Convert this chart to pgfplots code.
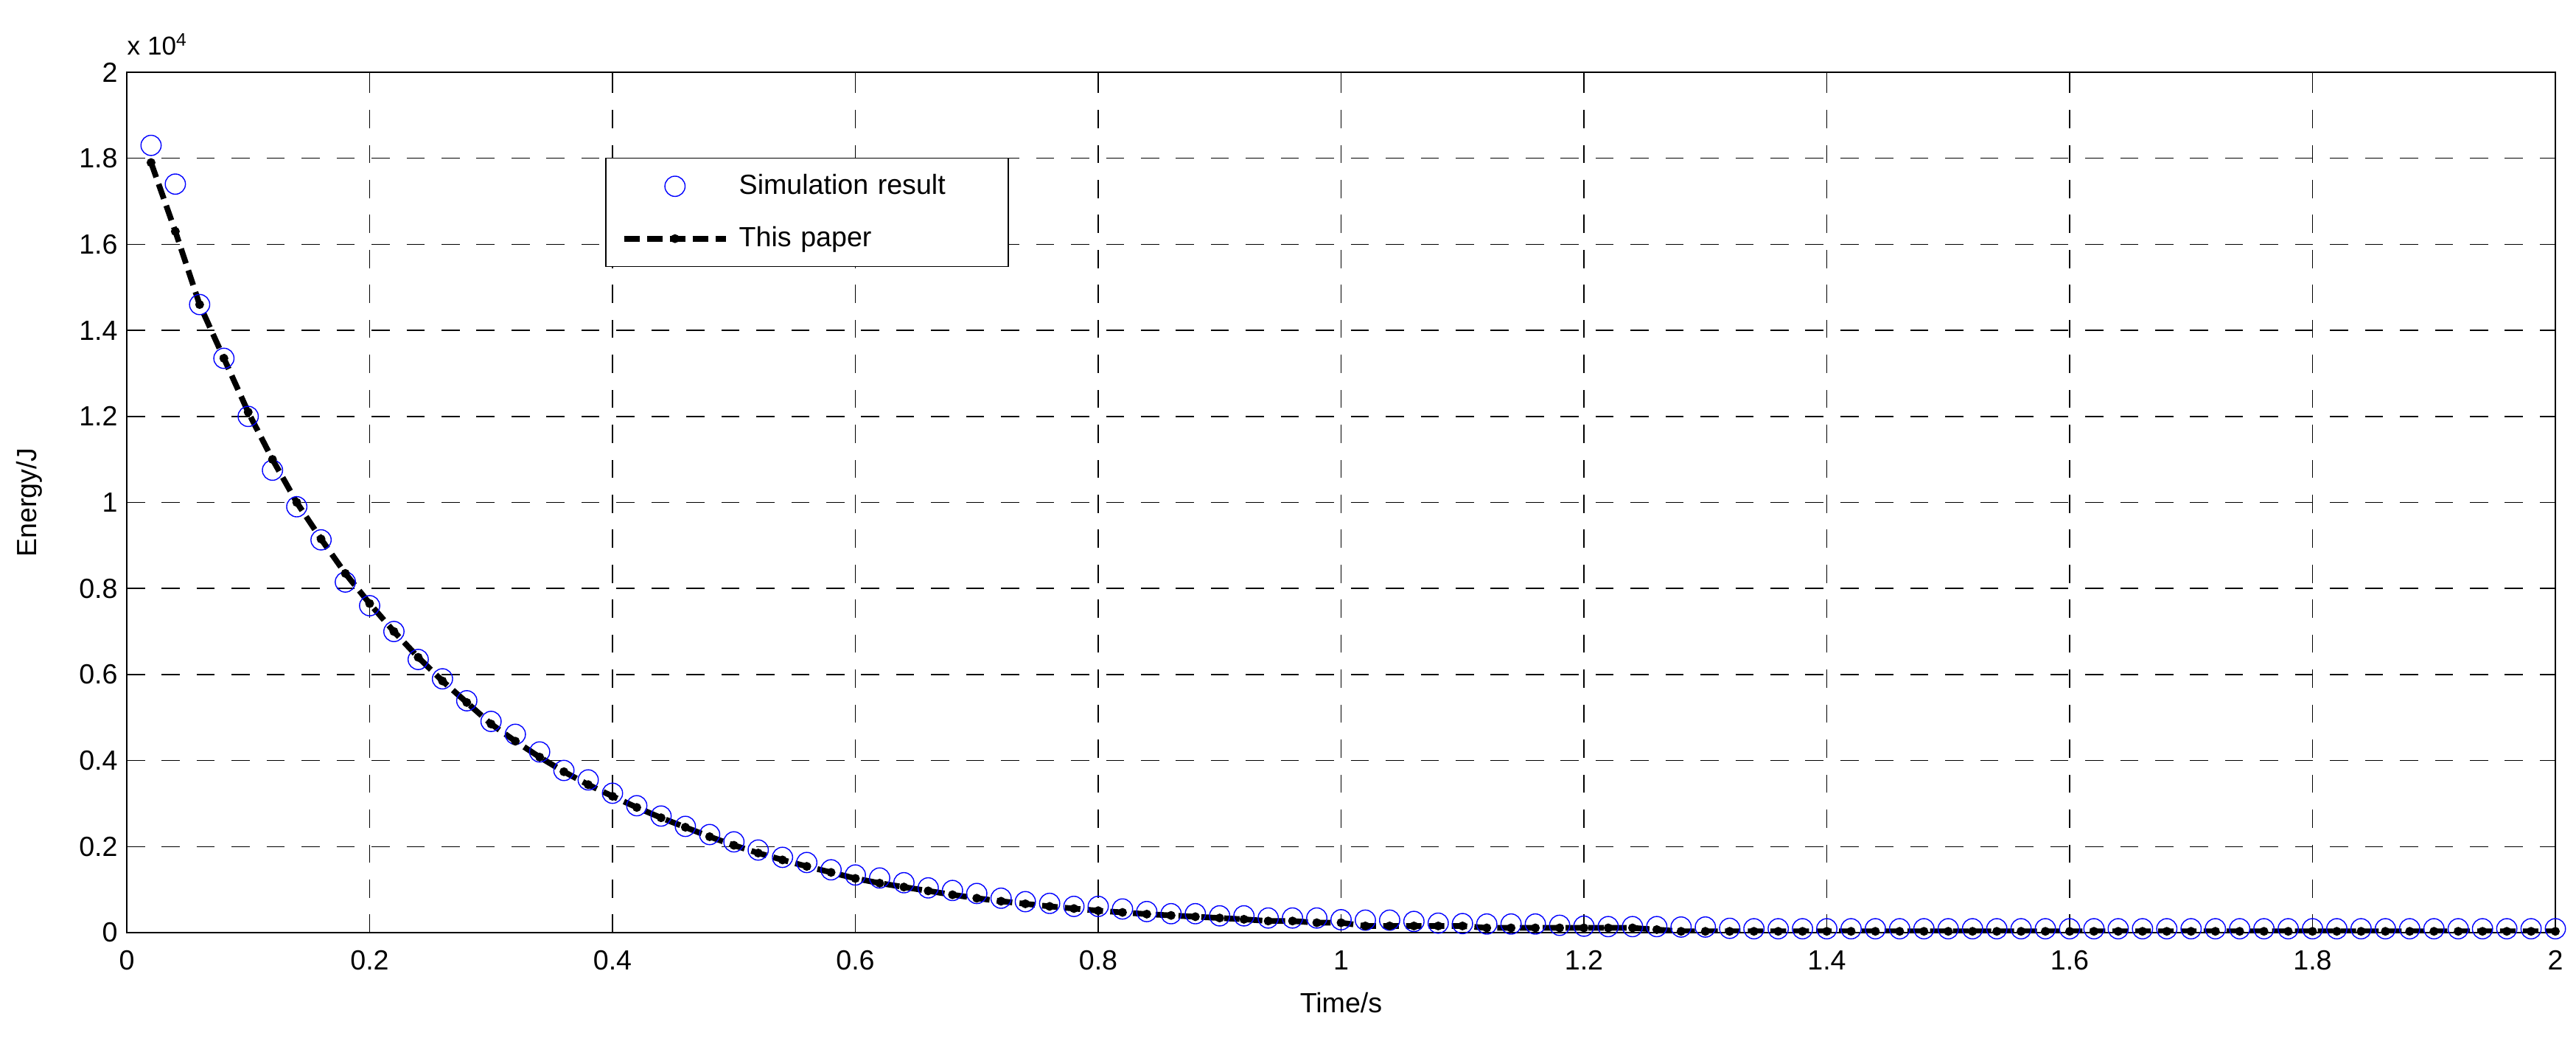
\documentclass[border=0pt]{standalone}
\usepackage{pgfplots}
\pgfplotsset{compat=1.18}
\usepackage{pgfplotstable}
\usepackage{fontspec}
\setmainfont{Liberation Sans}

\pgfplotsset{
  circleleg/.style={legend image code/.code={\draw[##1] plot coordinates {(0.69cm,0cm)};}},
  lineleg/.style={legend image code/.code={\draw[##1, mark repeat=2, mark phase=2] plot coordinates {(0cm,0cm) (0.69cm,0cm) (1.38cm,0cm)};}},
}

% simulation result (circles)
\pgfplotstableread{
t E
0.02 18300
0.04 17400
0.06 14600
0.08 13350
0.10 12000
0.12 10750
0.14 9900
0.16 9130
0.18 8150
0.20 7600
0.22 7000
0.24 6350
0.26 5900
0.28 5390
0.30 4910
0.32 4610
0.34 4200
0.36 3770
0.38 3550
0.40 3240
0.42 2950
0.44 2710
0.46 2470
0.48 2280
0.50 2110
0.52 1920
0.54 1750
0.56 1630
0.58 1460
0.60 1340
0.62 1270
0.64 1160
0.66 1040
0.68 980
0.70 910
0.72 800
0.74 720
0.76 680
0.78 610
0.80 610
0.82 550
0.84 490
0.86 440
0.88 440
0.90 390
0.92 390
0.94 340
0.96 340
0.98 340
1.00 300
1.02 290
1.04 290
1.06 260
1.08 220
1.10 210
1.12 200
1.14 200
1.16 200
1.18 170
1.20 150
1.22 140
1.24 140
1.26 140
1.28 130
1.30 130
1.32 100
1.34 90
1.36 90
1.38 90
1.40 90
1.42 90
1.44 90
1.46 90
1.48 90
1.50 90
1.52 90
1.54 90
1.56 90
1.58 90
1.60 90
1.62 90
1.64 90
1.66 90
1.68 90
1.70 90
1.72 90
1.74 90
1.76 90
1.78 90
1.80 90
1.82 90
1.84 90
1.86 90
1.88 90
1.90 90
1.92 90
1.94 90
1.96 90
1.98 90
2.00 90
}\simdata

% this paper (dashed line)
\pgfplotstableread{
t E
0.02 17900
0.04 16300
0.06 14600
0.08 13350
0.10 12100
0.12 11000
0.14 10000
0.16 9150
0.18 8350
0.20 7650
0.22 7000
0.24 6400
0.26 5850
0.28 5350
0.30 4850
0.32 4450
0.34 4080
0.36 3740
0.38 3440
0.40 3170
0.42 2910
0.44 2670
0.46 2450
0.48 2230
0.50 2030
0.52 1850
0.54 1690
0.56 1540
0.58 1400
0.60 1260
0.62 1150
0.64 1060
0.66 970
0.68 880
0.70 800
0.72 730
0.74 670
0.76 610
0.78 560
0.80 510
0.82 470
0.84 430
0.86 400
0.88 370
0.90 340
0.92 310
0.94 270
0.96 270
0.98 230
1.00 230
1.02 155
1.04 155
1.06 155
1.08 155
1.10 155
1.12 110
1.14 110
1.16 110
1.18 110
1.20 110
1.22 110
1.24 110
1.26 70
1.28 30
1.30 30
1.32 30
1.34 30
1.36 30
1.38 30
1.40 30
1.42 30
1.44 30
1.46 30
1.48 30
1.50 30
1.52 30
1.54 30
1.56 30
1.58 30
1.60 30
1.62 30
1.64 30
1.66 30
1.68 30
1.70 30
1.72 30
1.74 30
1.76 30
1.78 30
1.80 30
1.82 30
1.84 30
1.86 30
1.88 30
1.90 30
1.92 30
1.94 30
1.96 30
1.98 30
2.00 30
}\paperdata

\begin{document}
\begin{tikzpicture}
\begin{axis}[
    scale only axis,
    width=32.95cm, height=11.67cm,
    xmin=0, xmax=2, ymin=0, ymax=20000,
    xtick={0,0.2,...,2},
    ytick={0,2000,...,20000},
    yticklabels={0,0.2,0.4,0.6,0.8,1,1.2,1.4,1.6,1.8,2},
    scaled y ticks=false,
    xticklabel style={/pgf/number format/fixed, yshift=-0.12cm},
    /pgf/number format/assume math mode=true,
    font=\fontsize{10.7}{13}\selectfont,
    tick align=inside,
    major tick length=0.1cm,
    tick style={black, line width=0.4pt},
    axis line style={black, line width=0.5pt},
    grid=major,
    major grid style={black, line width=0.45pt, dash pattern=on 7pt off 6.5pt},
    xlabel={Time/s},
    ylabel={Energy/J},
    every axis x label/.style={at={(rel axis cs:0.5,0)}, anchor=center, yshift=-0.95cm},
    every axis y label/.style={at={(rel axis cs:-0.040,0.5)}, rotate=90, anchor=center},
    legend style={at={(rel axis cs:0.197,0.9006)}, anchor=north west,
        draw=black, line width=0.4pt, fill=white,
        inner xsep=6pt, inner ysep=0.08cm, row sep=0.11cm,
        nodes={minimum height=0.6cm, inner xsep=4pt},
        text width=3.3cm, align=left},
    legend cell align=left,
]
\addplot[only marks, mark=o, mark size=3.9pt, color=blue, line width=0.4pt, circleleg]
    table[x=t, y=E] {\simdata};
\addlegendentry{Simulation result}
\addplot[black, line width=2.2pt, dash pattern=on 6pt off 2.8pt,
    mark=*, mark size=1.5pt, mark options={solid, line width=0.4pt}, lineleg]
    table[x=t, y=E] {\paperdata};
\addlegendentry{This paper}
\end{axis}
\node[anchor=base west, inner sep=0pt] at ([yshift=0.23cm]current axis.north west) {x 10\textsuperscript{4}};
\path ([shift={(-1.72cm,-1.46cm)}]current axis.south west) rectangle ([shift={(0.28cm,0.98cm)}]current axis.north east);
\end{tikzpicture}
\end{document}
